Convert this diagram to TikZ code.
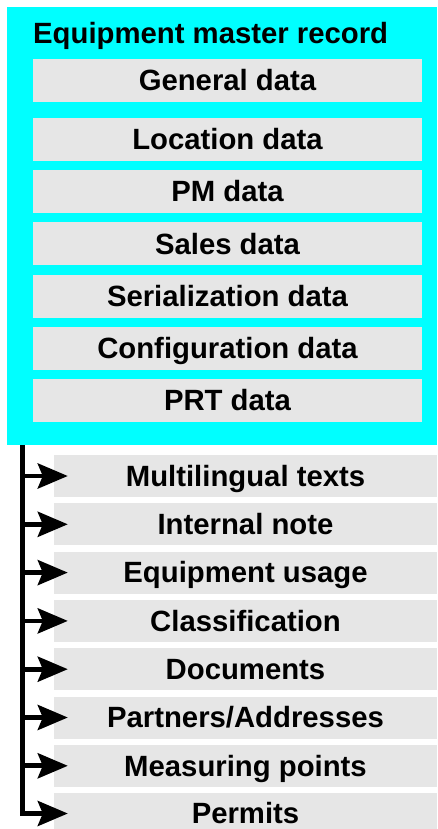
\documentclass[tikz,border=0pt]{standalone}
\usepackage{fontspec}
\setmainfont{Liberation Sans}
\usetikzlibrary{arrows.meta}
\definecolor{boxgray}{HTML}{E6E6E6}
\definecolor{aqua}{HTML}{00FFFF}
\begin{document}
\begin{tikzpicture}[x=1pt,y=-1pt,
  every node/.style={font=\fontsize{29.3}{34}\selectfont\bfseries, inner sep=0pt},
  upper/.style={fill=boxgray, minimum width=389pt, minimum height=43pt, text height=20.5pt, text depth=0pt},
  lower/.style={fill=boxgray, minimum width=383pt, minimum height=42pt, text height=20.5pt, text depth=0pt},
  link/.style={line width=4.7pt, -{Stealth[length=30pt, width=25pt, inset=5pt]}}
]
\useasboundingbox (0,0) rectangle (437,829);

% record frame and its title
\node[fill=aqua, minimum width=430pt, minimum height=438pt, anchor=north west] (emr) at (7,7) {};
\node[anchor=base west] (title) at (33,43.5) {Equipment master record};

% data sections inside the record
\node[upper] (general) at (227.5,80.5)  {General data};
\node[upper] (location) at (227.5,139.5) {Location data};
\node[upper] (pm)       at (227.5,191.7) {PM data};
\node[upper] (sales)    at (227.5,243.9) {Sales data};
\node[upper] (serial)   at (227.5,296.1) {Serialization data};
\node[upper] (config)   at (227.5,348.3) {Configuration data};
\node[upper] (prt)      at (227.5,400.5) {PRT data};

% linked objects
\node[lower] (texts)    at (245.5,476.0) {Multilingual texts};
\node[lower] (note)     at (245.5,524.3) {Internal note};
\node[lower] (usage)    at (245.5,572.6) {Equipment usage};
\node[lower] (class)    at (245.5,620.9) {Classification};
\node[lower] (docs)     at (245.5,669.2) {Documents};
\node[lower] (partners) at (245.5,717.5) {Partners/Addresses};
\node[lower] (measure)  at (245.5,765.8) {Measuring points};
\node[lower] (permits)  at (245.5,813.5) {Permits};

% spine with branches
\coordinate (spine) at (22.5,445);
\draw[link] (spine) |- ([xshift=14pt]permits.west);
\foreach \n in {texts,note,usage,class,docs,partners,measure}
  \draw[link] (spine |- \n.west) -- ([xshift=14pt]\n.west);
\end{tikzpicture}
\end{document}
